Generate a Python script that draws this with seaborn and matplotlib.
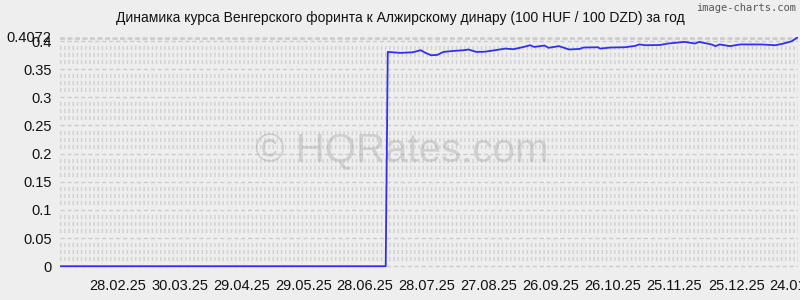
import matplotlib
matplotlib.use("Agg")
import matplotlib.pyplot as plt
import seaborn as sns
import pandas as pd
import numpy as np

dates = ["2025-01-31", "2025-07-08", "2025-07-09", "2025-07-15", "2025-07-21", "2025-07-25",
         "2025-07-27", "2025-07-30", "2025-08-02", "2025-08-05", "2025-08-10", "2025-08-15",
         "2025-08-17", "2025-08-21", "2025-08-25", "2025-08-30", "2025-09-04", "2025-09-08",
         "2025-09-13", "2025-09-16", "2025-09-18", "2025-09-23", "2025-09-25", "2025-09-30",
         "2025-10-05", "2025-10-10", "2025-10-12", "2025-10-19", "2025-10-20", "2025-10-25",
         "2025-11-01", "2025-11-06", "2025-11-08", "2025-11-11", "2025-11-18", "2025-11-22",
         "2025-11-30", "2025-12-05", "2025-12-07", "2025-12-13", "2025-12-15", "2025-12-17",
         "2025-12-22", "2025-12-27", "2026-01-06", "2026-01-13", "2026-01-17", "2026-01-21",
         "2026-01-24"]
rates = [0.0, 0.0, 0.3807, 0.3790, 0.3800, 0.3837,
         0.3796, 0.3748, 0.3754, 0.3807, 0.3825, 0.3837,
         0.3850, 0.3807, 0.3810, 0.3837, 0.3866, 0.3855,
         0.3896, 0.3926, 0.3896, 0.3920, 0.3880, 0.3910,
         0.3850, 0.3860, 0.3885, 0.3890, 0.3866, 0.3885,
         0.3890, 0.3914, 0.3940, 0.3926, 0.3930, 0.3956,
         0.3985, 0.3956, 0.3985, 0.3940, 0.3910, 0.3940,
         0.3910, 0.3940, 0.3940, 0.3926, 0.3956, 0.3997,
         0.4072]

tick_dates = ["2025-02-28", "2025-03-30", "2025-04-29", "2025-05-29", "2025-06-28",
              "2025-07-28", "2025-08-27", "2025-09-26", "2025-10-26", "2025-11-25",
              "2025-12-25", "2026-01-24"]
tick_labels = ["28.02.25", "30.03.25", "29.04.25", "29.05.25", "28.06.25", "28.07.25",
               "27.08.25", "26.09.25", "26.10.25", "25.11.25", "25.12.25", "24.01.26"]
y_ticks = [0, 0.05, 0.1, 0.15, 0.2, 0.25, 0.3, 0.35, 0.4, 0.4072]
y_labels = ["0", "0.05", "0.1", "0.15", "0.2", "0.25", "0.3", "0.35", "0.4", "0.4072"]

title = "Динамика курса Венгерского форинта к Алжирскому динару (100 HUF / 100 DZD) за год"

sns.set_theme(style="white")
plt.rcParams["font.family"] = ["Liberation Sans", "DejaVu Sans"]

bg = "#eeeeee"
df = pd.DataFrame({"date": pd.to_datetime(dates), "rate": rates})

fig = plt.figure(figsize=(8, 3), dpi=100, facecolor=bg)
ax = fig.add_axes([0.075, 1 - 275 / 300, 0.9975 - 0.075, (275 - 37) / 300])
ax.set_facecolor(bg)

ymin, ymax = -0.0156, 0.4072
# grid rows
for lv in np.arange(0, 0.41, 0.0125):
    if abs(lv / 0.05 - round(lv / 0.05)) < 1e-6:
        continue
    ax.axhline(lv, color="#d2d2d2", lw=3, ls=(0, (0.35, 0.65)), zorder=0)
ax.axhline(ymin + 0.0005, color="#d2d2d2", lw=1, ls=(0, (1, 2)), zorder=0)
for lv in np.arange(0, 0.41, 0.05):
    ax.axhline(lv, color="#cccccc", lw=1, ls=(0, (3, 2)), zorder=0)
ax.axhline(ymax - 0.001, color="#d0d0d0", lw=3, ls=(0, (1.2, 0.6)), zorder=0)

sns.lineplot(data=df, x="date", y="rate", ax=ax, color="#3030f0", lw=1.3, zorder=3)

ax.set_xlim(pd.Timestamp("2025-01-31"), pd.Timestamp("2026-01-24"))
ax.set_ylim(ymin, ymax)
ax.set_xticks(pd.to_datetime(tick_dates))
ax.set_xticklabels(tick_labels)
ax.set_yticks(y_ticks)
ax.set_yticklabels(y_labels)
ax.tick_params(axis="both", length=0, labelsize=10.5, colors="#111111", pad=6)
ax.tick_params(axis="x", pad=3)
ax.set_xlabel("")
ax.set_ylabel("")
for s in ax.spines.values():
    s.set_visible(False)
ax.grid(False)

fig.text(0.5, 1 - 18 / 300, title, ha="center", va="center", fontsize=10, color="#111111")
fig.text(0.995, 1 - 8 / 300, "image-charts.com", ha="right", va="center", fontsize=7.5,
         color="#555555", family=["DejaVu Sans Mono", "DejaVu Sans"])
ax.text(0.463, 0.52, "© HQRates.com", transform=ax.transAxes, ha="center", va="center",
        fontsize=29, color="#9a9a9a", alpha=0.35, zorder=2)

fig.savefig("out.png", dpi=100, facecolor=bg)
